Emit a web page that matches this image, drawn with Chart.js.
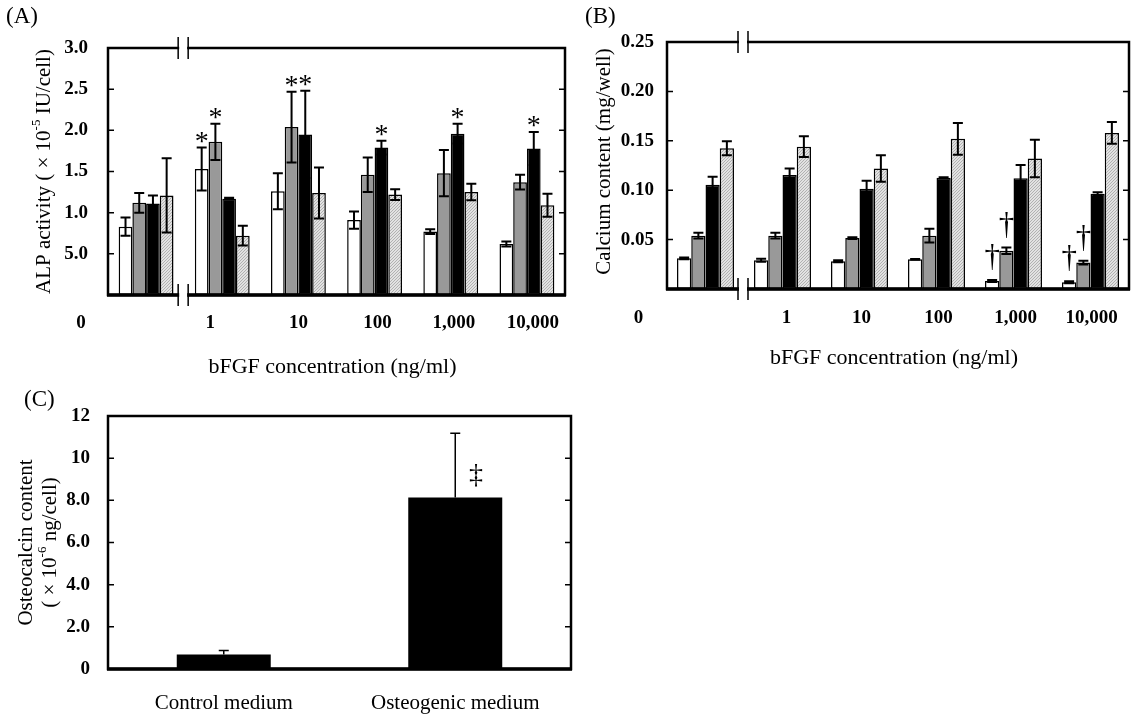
<!DOCTYPE html>
<html>
<head>
<meta charset="utf-8">
<script src="https://cdn.jsdelivr.net/npm/chart.js@4.4.1/dist/chart.umd.min.js"></script>
<style>
  body { margin: 0; background: #fff; }
  #page { position: relative; width: 1131px; height: 715px; overflow: hidden; background: #fff; }
  canvas { position: absolute; }
</style>
</head>
<body>
<div id="page">
  <canvas id="chart-alp" width="580" height="390" style="left:0;top:0;width:580px;height:390px"></canvas>
  <canvas id="chart-ca" width="551" height="390" style="left:580px;top:0;width:551px;height:390px"></canvas>
  <canvas id="chart-osc" width="600" height="335" style="left:0;top:380px;width:600px;height:335px"></canvas>
</div>
<script>
// bFGF groups (ng/ml)
const bfgfLabels = ['0', '1', '10', '100', '1,000', '10,000'];

// (A) ALP activity, x10^-5 IU/cell
const alpWhite = [0.83, 1.53, 1.26, 0.91, 0.77, 0.62];
const alpWhiteErr = [0.11, 0.26, 0.22, 0.105, 0.03, 0.03];
const alpGray = [1.12, 1.86, 2.04, 1.46, 1.48, 1.37];
const alpGrayErr = [0.12, 0.22, 0.43, 0.21, 0.28, 0.09];
const alpBlack = [1.11, 1.17, 1.95, 1.79, 1.96, 1.78];
const alpBlackErr = [0.10, 0.01, 0.53, 0.085, 0.12, 0.20];
const alpHatch = [1.21, 0.72, 1.24, 1.22, 1.25, 1.09];
const alpHatchErr = [0.45, 0.12, 0.31, 0.065, 0.10, 0.14];
const alpYTicks = ['', '5.0', '1.0', '1.5', '2.0', '2.5', '3.0'];
// [series, group] pairs marked with *
const alpStars = [[0, 1], [1, 1], [1, 2], [2, 2], [2, 3], [2, 4], [2, 5]];

// (B) calcium content, mg/well
const caWhite = [0.031, 0.029, 0.028, 0.030, 0.0082, 0.0068];
const caWhiteErr = [0.0008, 0.0015, 0.001, 0.0004, 0.001, 0.001];
const caGray = [0.054, 0.054, 0.0515, 0.054, 0.0387, 0.0267];
const caGrayErr = [0.003, 0.003, 0.0008, 0.007, 0.0032, 0.0018];
const caBlack = [0.1055, 0.1155, 0.1015, 0.1125, 0.112, 0.0965];
const caBlackErr = [0.008, 0.0065, 0.008, 0.0005, 0.0135, 0.0015];
const caHatch = [0.1425, 0.144, 0.122, 0.152, 0.132, 0.158];
const caHatchErr = [0.007, 0.0105, 0.0135, 0.016, 0.019, 0.011];
const caYTicks = ['', '0.05', '0.10', '0.15', '0.20', '0.25'];
const caDaggers = [[0, 4], [1, 4], [0, 5], [1, 5]];

// (C) osteocalcin content, x10^-6 ng/cell
const oscLabels = ['Control medium', 'Osteogenic medium'];
const oscValues = [0.69, 8.14];
const oscErr = [0.19, 3.04];
const oscYTicks = ['0', '2.0', '4.0', '6.0', '8.0', '10', '12'];
const oscMarks = [[0, 1]];

const SERIF = "'Liberation Serif', 'Times New Roman', serif";

function makeHatch() {
  const c = document.createElement('canvas');
  c.width = 3; c.height = 3;
  const g = c.getContext('2d');
  g.fillStyle = '#e2e2e2';
  g.fillRect(0, 0, 3, 3);
  g.strokeStyle = '#ababab';
  g.lineWidth = 0.9;
  g.beginPath();
  g.moveTo(0, 3); g.lineTo(3, 0);
  g.moveTo(-1, 1); g.lineTo(1, -1);
  g.moveTo(2, 4); g.lineTo(4, 2);
  g.stroke();
  return g.createPattern(c, 'repeat');
}
const hatch = makeHatch();

function drawRich(ctx, pieces, size) {
  let total = 0;
  pieces.forEach(p => {
    ctx.font = (p.sup ? Math.round(size * 0.62) : size) + 'px ' + SERIF;
    p.w = ctx.measureText(p.t).width;
    total += p.w;
  });
  let x = -total / 2;
  pieces.forEach(p => {
    ctx.font = (p.sup ? Math.round(size * 0.62) : size) + 'px ' + SERIF;
    ctx.fillText(p.t, x, p.sup ? -size * 0.35 : 0);
    x += p.w;
  });
}

const decor = {
  id: 'decor',
  afterDatasetsDraw(chart, args, o) {
    const ctx = chart.ctx, a = chart.chartArea, xs = chart.scales.x, ys = chart.scales.y;
    ctx.save();
    ctx.fillStyle = '#000';
    ctx.strokeStyle = '#000';

    // error bars
    const errTops = [];
    o.errors.forEach((errs, di) => {
      errTops[di] = [];
      chart.getDatasetMeta(di).data.forEach((bar, i) => {
        const v = chart.data.datasets[di].data[i], e = errs[i];
        const top = ys.getPixelForValue(v + e);
        const bot = o.oneSided ? bar.y : ys.getPixelForValue(v - e);
        errTops[di][i] = top;
        ctx.lineWidth = o.errWidth;
        ctx.beginPath();
        ctx.moveTo(bar.x, bot); ctx.lineTo(bar.x, top);
        ctx.moveTo(bar.x - o.cap, top); ctx.lineTo(bar.x + o.cap, top);
        if (!o.oneSided) { ctx.moveTo(bar.x - o.cap, bot); ctx.lineTo(bar.x + o.cap, bot); }
        ctx.stroke();
      });
    });

    // significance marks
    ctx.font = o.markFont;
    ctx.textAlign = 'center';
    ctx.textBaseline = 'alphabetic';
    o.marks.forEach(([di, i]) => {
      const bar = chart.getDatasetMeta(di).data[i];
      const ref = o.markFromBar ? bar.y : errTops[di][i];
      ctx.fillText(o.markText, bar.x + o.markDx * bar.width, ref + o.markDy);
    });

    // frame
    ctx.lineWidth = o.frameWidth;
    ctx.strokeRect(a.left, a.top, a.right - a.left, a.bottom - a.top);
    ctx.lineWidth = o.frameWidth + 1;
    ctx.beginPath(); ctx.moveTo(a.left - 1, a.bottom); ctx.lineTo(a.right + 1, a.bottom); ctx.stroke();

    // inward ticks on both sides
    ctx.lineWidth = 1.5;
    ys.ticks.forEach(t => {
      const y = ys.getPixelForValue(t.value);
      ctx.beginPath();
      ctx.moveTo(a.left, y); ctx.lineTo(a.left + 6, y);
      ctx.moveTo(a.right - 6, y); ctx.lineTo(a.right, y);
      ctx.stroke();
    });

    // axis break between the 0 group and the 1 group
    if (o.axisBreak) {
      const xb = (xs.getPixelForValue(0) + xs.getPixelForValue(1)) / 2 - 1;
      [a.top, a.bottom].forEach(y => {
        ctx.fillStyle = '#fff';
        ctx.fillRect(xb - 4, y - 3, 8, 6);
        ctx.lineWidth = 1.5;
        ctx.beginPath();
        ctx.moveTo(xb - 5, y - 11); ctx.lineTo(xb - 5, y + 11);
        ctx.moveTo(xb + 5, y - 11); ctx.lineTo(xb + 5, y + 11);
        ctx.stroke();
      });
      ctx.fillStyle = '#000';
    }

    // category labels
    ctx.font = o.catFont;
    ctx.textAlign = 'center';
    ctx.textBaseline = 'middle';
    chart.data.labels.forEach((lab, i) => {
      ctx.fillText(lab, xs.getPixelForValue(i) + (o.catDx ? o.catDx[i] : 0), a.bottom + o.catDy);
    });

    // x title
    if (o.xTitle) {
      ctx.font = '22px ' + SERIF;
      ctx.fillText(o.xTitle, (a.left + a.right) / 2 + o.xTitleDx, a.bottom + o.xTitleDy);
    }

    // y title (rotated, with superscripts)
    ctx.textAlign = 'left';
    o.yTitle.forEach((pieces, k) => {
      ctx.save();
      ctx.translate(o.yTitleX[k], (a.top + a.bottom) / 2 + o.yTitleDy);
      ctx.rotate(-Math.PI / 2);
      drawRich(ctx, pieces, 21);
      ctx.restore();
    });

    // panel letter
    ctx.font = '23px ' + SERIF;
    ctx.textBaseline = 'top';
    ctx.fillText(o.panel, o.panelX, o.panelY);
    ctx.restore();
  }
};

function barDataset(data, color) {
  return { data, backgroundColor: color, borderColor: '#000', borderWidth: 1.5, borderSkipped: false };
}

function baseOptions(yMin, yMax, step, tickLabels, pad, yWidth, xHeight, tickPad, catPct) {
  return {
    responsive: false,
    animation: false,
    devicePixelRatio: 1,
    layout: { padding: pad },
    datasets: { bar: { categoryPercentage: catPct, barPercentage: 1.0 } },
    plugins: { legend: { display: false }, tooltip: { enabled: false } },
    scales: {
      x: {
        type: 'category',
        ticks: { display: false },
        grid: { display: false },
        border: { display: false },
        afterFit: s => { s.height = xHeight; }
      },
      y: {
        min: yMin, max: yMax,
        ticks: {
          stepSize: step,
          padding: tickPad,
          color: '#000',
          font: { family: SERIF, size: 19, weight: 'bold' },
          callback: (v, i) => tickLabels[i]
        },
        grid: { display: false },
        border: { display: false },
        afterFit: s => { s.width = yWidth; }
      }
    }
  };
}

// (A)
const optA = baseOptions(0, 3, 0.5, alpYTicks, { top: 48, right: 15, left: 0, bottom: 0 }, 108, 95, 12, 0.72);
optA.plugins.decor = {
  errors: [alpWhiteErr, alpGrayErr, alpBlackErr, alpHatchErr],
  errWidth: 2, cap: 5, oneSided: false,
  marks: alpStars, markText: '*', markFont: '28px ' + SERIF, markDx: 0, markDy: 2,
  frameWidth: 2.5, axisBreak: true,
  catFont: 'bold 19px ' + SERIF, catDy: 28, catDx: [-65, -12, 0, 3, 3, 6],
  xTitle: 'bFGF concentration (ng/ml)', xTitleDx: -4, xTitleDy: 72,
  yTitle: [[{ t: 'ALP activity ( × 10' }, { t: '-5', sup: true }, { t: ' IU/cell)' }]],
  yTitleX: [44], yTitleDy: 0,
  panel: '(A)', panelX: 6, panelY: 5
};
new Chart(document.getElementById('chart-alp'), {
  type: 'bar',
  data: {
    labels: bfgfLabels,
    datasets: [
      barDataset(alpWhite, '#ffffff'),
      barDataset(alpGray, '#999999'),
      barDataset(alpBlack, '#000000'),
      barDataset(alpHatch, hatch)
    ]
  },
  options: optA,
  plugins: [decor]
});

// (B)
const optB = baseOptions(0, 0.25, 0.05, caYTicks, { top: 42, right: 2, left: 0, bottom: 0 }, 87, 101, 5, 0.74);
optB.plugins.decor = {
  errors: [caWhiteErr, caGrayErr, caBlackErr, caHatchErr],
  errWidth: 2, cap: 5, oneSided: false,
  marks: caDaggers, markText: '†', markFont: '31px ' + SERIF, markDx: 0, markDy: -14,
  frameWidth: 2.5, axisBreak: true,
  catFont: 'bold 19px ' + SERIF, catDy: 29, catDx: [-67, 4, 2, 2, 2, 1],
  xTitle: 'bFGF concentration (ng/ml)', xTitleDx: -4, xTitleDy: 69,
  yTitle: [[{ t: 'Calcium content (mg/well)' }]],
  yTitleX: [24], yTitleDy: -4,
  panel: '(B)', panelX: 5, panelY: 5
};
new Chart(document.getElementById('chart-ca'), {
  type: 'bar',
  data: {
    labels: bfgfLabels,
    datasets: [
      barDataset(caWhite, '#ffffff'),
      barDataset(caGray, '#999999'),
      barDataset(caBlack, '#000000'),
      barDataset(caHatch, hatch)
    ]
  },
  options: optB,
  plugins: [decor]
});

// (C)
const optC = baseOptions(0, 12, 2, oscYTicks, { top: 36, right: 29, left: 0, bottom: 0 }, 108, 46, 10, 0.406);
optC.plugins.decor = {
  errors: [oscErr],
  errWidth: 1.5, cap: 5, oneSided: true,
  marks: oscMarks, markText: '‡', markFont: '28px ' + SERIF, markDx: 0.22, markDy: -14, markFromBar: true,
  frameWidth: 2.5, axisBreak: false,
  catFont: '21px ' + SERIF, catDy: 34,
  xTitle: null,
  yTitle: [
    [{ t: 'Osteocalcin content' }],
    [{ t: '( × 10' }, { t: '-6', sup: true }, { t: ' ng/cell)' }]
  ],
  yTitleX: [26, 50], yTitleDy: 0,
  panel: '(C)', panelX: 24, panelY: 8
};
new Chart(document.getElementById('chart-osc'), {
  type: 'bar',
  data: {
    labels: oscLabels,
    datasets: [{ data: oscValues, backgroundColor: '#000', borderColor: '#000', borderWidth: 0 }]
  },
  options: optC,
  plugins: [decor]
});
</script>
</body>
</html>
